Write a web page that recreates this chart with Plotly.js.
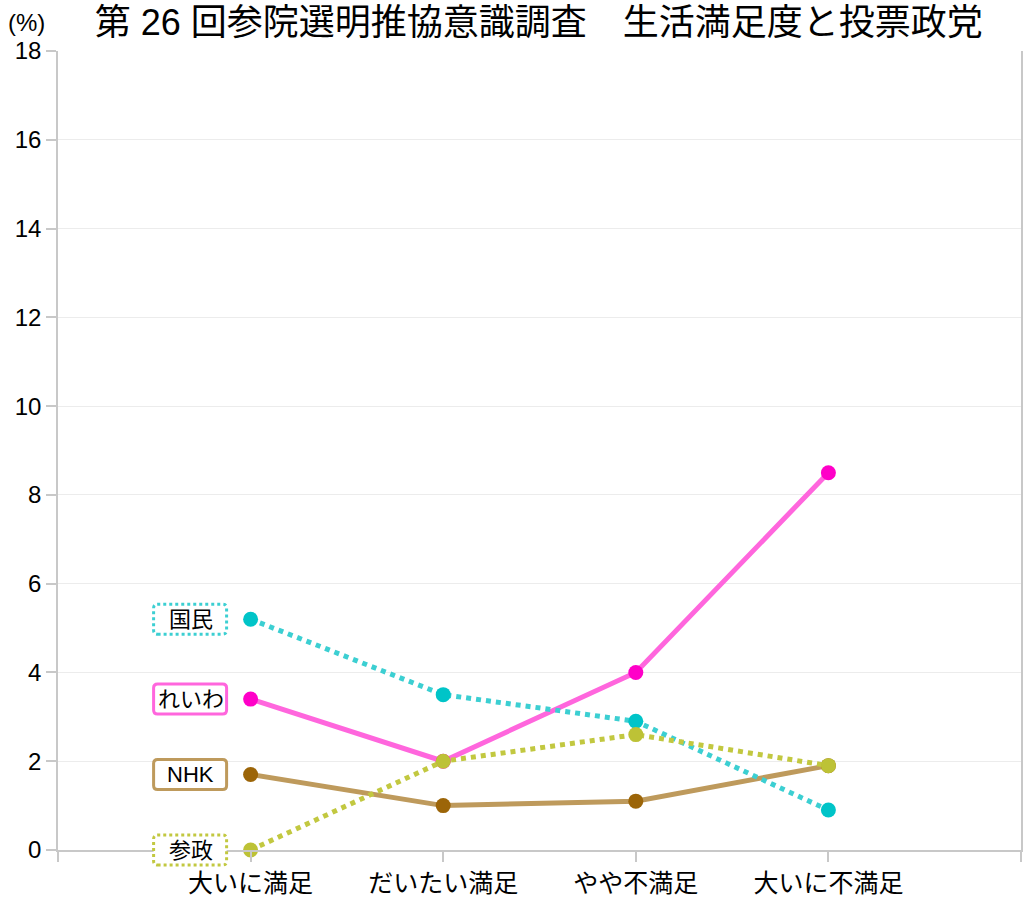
<!DOCTYPE html>
<html>
<head>
<meta charset="utf-8">
<script src="https://cdn.plot.ly/plotly-3.0.1.min.js"></script>
<style>
  html, body { margin: 0; padding: 0; background: #fff; }
  #chart { width: 1030px; height: 898px; }
</style>
</head>
<body>
<div id="chart"></div>
<script>
// 生活満足度の区分
var categories = ['大いに満足', 'だいたい満足', 'やや不満足', '大いに不満足'];

// 各政党の投票率 (%)
var kokumin = [5.2, 3.5, 2.9, 0.9];
var reiwa = [3.4, 2.0, 4.0, 8.5];
var nhk = [1.7, 1.0, 1.1, 1.9];
var sansei = [0.0, 2.0, 2.6, 1.9];

var yTicks = [0, 2, 4, 6, 8, 10, 12, 14, 16, 18];
var yRange = [0, 18];

var font = '"Liberation Sans", Arial, "Noto Sans CJK JP", sans-serif';
var xs = categories.map(function (c, i) { return i; });

function party(name, vals, lineColor, dotColor, dash) {
  return {
    x: xs, y: vals, name: name,
    type: 'scatter', mode: 'lines+markers',
    line: { color: lineColor, width: 5, dash: dash },
    marker: { color: dotColor, size: 15 },
    cliponaxis: false,
    hoverinfo: 'y'
  };
}

var series = [
  { name: 'NHK', vals: nhk, line: '#BE9A5C', dot: '#9C6508', dash: 'solid' },
  { name: 'れいわ', vals: reiwa, line: '#FF66DD', dot: '#FF00C8', dash: 'solid' },
  { name: '国民', vals: kokumin, line: '#3CCFD2', dot: '#00C4C8', dash: 'dot' },
  { name: '参政', vals: sansei, line: '#C2C840', dot: '#BDC236', dash: 'dot' }
];

var data = series.map(function (s) {
  return party(s.name, s.vals, s.line, s.dot, s.dash);
});

// ラベル (左端の点の横)。枠は下端で切れないよう y は domain 基準
var annotations = [];
var shapes = [];
series.forEach(function (s) {
  annotations.push({
    x: 0, y: s.vals[0], xref: 'x', yref: 'y',
    text: s.name, showarrow: false,
    xanchor: 'center', yanchor: 'middle', xshift: -60,
    font: { family: font, size: 22, color: '#000' }
  });
  var r = 4, x0 = -97, x1 = -24, y0 = -15, y1 = 15;
  shapes.push({
    type: 'path', xref: 'x', yref: 'y domain',
    xsizemode: 'pixel', ysizemode: 'pixel',
    xanchor: 0, yanchor: (s.vals[0] - yRange[0]) / (yRange[1] - yRange[0]),
    path: 'M' + (x0 + r) + ',' + y0 + ' L' + (x1 - r) + ',' + y0 +
      ' Q' + x1 + ',' + y0 + ' ' + x1 + ',' + (y0 + r) +
      ' L' + x1 + ',' + (y1 - r) + ' Q' + x1 + ',' + y1 + ' ' + (x1 - r) + ',' + y1 +
      ' L' + (x0 + r) + ',' + y1 + ' Q' + x0 + ',' + y1 + ' ' + x0 + ',' + (y1 - r) +
      ' L' + x0 + ',' + (y0 + r) + ' Q' + x0 + ',' + y0 + ' ' + (x0 + r) + ',' + y0 + ' Z',
    fillcolor: 'rgba(255,255,255,1)',
    line: { color: s.line, width: 3, dash: s.dash },
    layer: 'above'
  });
});

annotations.push({
  xref: 'paper', yref: 'paper', x: 0, y: 1,
  xanchor: 'right', yanchor: 'bottom', xshift: -11, yshift: 13,
  text: '(%)', showarrow: false,
  font: { family: font, size: 24, color: '#000' }
});

var layout = {
  width: 1030, height: 898,
  margin: { l: 58, r: 9, t: 51, b: 48 },
  paper_bgcolor: '#fff', plot_bgcolor: '#fff',
  showlegend: false,
  font: { family: font, color: '#000' },
  title: {
    text: '第 26 回参院選明推協意識調査　生活満足度と投票政党',
    font: { family: font, size: 36, color: '#000' },
    x: 0.523, xanchor: 'center', y: 0.975, yanchor: 'middle'
  },
  xaxis: {
    range: [-1, 4],
    tickvals: [-1].concat(xs, [4]),
    ticktext: [''].concat(categories, ['']),
    ticks: 'outside', ticklen: 10, tickcolor: '#c8c8c8', tickwidth: 1.5,
    showgrid: false, zeroline: false,
    showline: true, linecolor: '#c8c8c8', linewidth: 1.5,
    tickfont: { family: font, size: 25, color: '#000' }
  },
  yaxis: {
    range: yRange,
    tickvals: yTicks,
    ticks: 'outside', ticklen: 10, tickcolor: '#c8c8c8', tickwidth: 1.5,
    showgrid: true, gridcolor: '#ececec', gridwidth: 1,
    zeroline: false,
    showline: true, linecolor: '#c8c8c8', linewidth: 1.5, mirror: true,
    tickfont: { family: font, size: 24, color: '#000' }
  },
  annotations: annotations,
  shapes: shapes
};

Plotly.newPlot('chart', data, layout, { displayModeBar: false });
</script>
</body>
</html>
